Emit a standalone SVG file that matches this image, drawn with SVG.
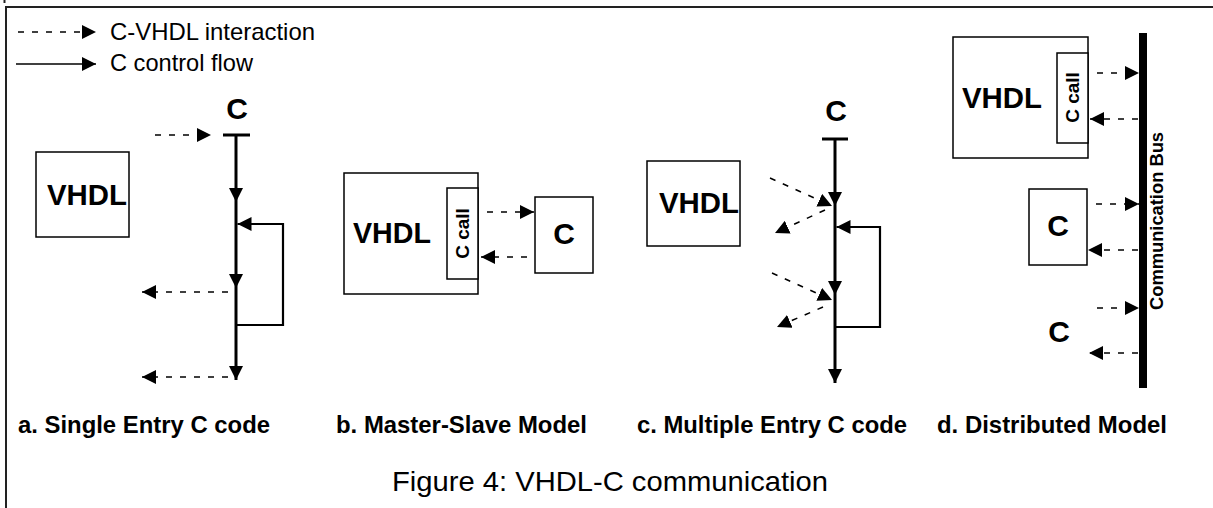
<svg xmlns="http://www.w3.org/2000/svg" width="1213" height="508" viewBox="0 0 1213 508">
<style>
text{font-family:"Liberation Sans",Arial,sans-serif;fill:#000}
.b{font-weight:bold}
.box{fill:#fff;stroke:#000;stroke-width:1.5}
.dash{fill:none;stroke:#000;stroke-width:1.5;stroke-dasharray:6 8;marker-end:url(#ah)}
.flow{fill:none;stroke:#000;stroke-width:3}
.flowa{fill:none;stroke:#000;stroke-width:3;marker-end:url(#ah)}
.loop{fill:none;stroke:#000;stroke-width:2.2;marker-end:url(#ah)}
.solid{fill:none;stroke:#000;stroke-width:1.5;marker-end:url(#ah)}
.lbl{font-size:24px;font-weight:bold}
.big{font-size:30px;font-weight:bold}
.ccall{font-size:19px;font-weight:bold}
</style>
<defs>
<marker id="ah" markerUnits="userSpaceOnUse" markerWidth="15" markerHeight="14" refX="14" refY="7" orient="auto" viewBox="0 0 15 14">
<path d="M0,0 L14,7 L0,14 z" fill="#000"/>
</marker>
</defs>
<rect width="1213" height="508" fill="#fff"/>
<g id="frame" fill="none" stroke="#222" stroke-width="2">
<path d="M6,508 V7 H1213"/>
<path d="M4.5,0 V3"/>
</g>
<g id="legend">
<path class="dash" d="M18,32 H96"/>
<text x="110" y="40" font-size="24" textLength="205" lengthAdjust="spacingAndGlyphs">C-VHDL interaction</text>
<path class="solid" d="M16,64 H96"/>
<text x="110" y="71" font-size="24" textLength="143" lengthAdjust="spacingAndGlyphs">C control flow</text>
</g>
<g id="a-vhdl">
<rect class="box" x="36" y="152" width="93" height="85"/>
<text class="big" x="47" y="205" textLength="80" lengthAdjust="spacingAndGlyphs">VHDL</text>
</g>
<g id="a-c">
<text class="big" x="237" y="119" text-anchor="middle">C</text>
</g>
<g id="b-vhdl">
<rect class="box" x="344" y="173" width="134" height="121"/>
<text class="big" x="353" y="243" textLength="78" lengthAdjust="spacingAndGlyphs">VHDL</text>
</g>
<g id="b-ccall">
<rect class="box" x="447" y="188" width="31" height="91"/>
<text class="ccall" transform="translate(469,233.5) rotate(-90)" text-anchor="middle">C call</text>
</g>
<g id="b-c">
<rect class="box" x="535" y="197" width="58" height="76"/>
<text class="big" x="564" y="244" text-anchor="middle">C</text>
</g>
<g id="c-vhdl">
<rect class="box" x="647" y="161" width="93" height="85"/>
<text class="big" x="659" y="213" textLength="80" lengthAdjust="spacingAndGlyphs">VHDL</text>
</g>
<g id="c-c">
<text class="big" x="836" y="121" text-anchor="middle">C</text>
</g>
<g id="d-vhdl">
<rect class="box" x="953" y="37" width="135" height="121"/>
<text class="big" x="962" y="108" textLength="80" lengthAdjust="spacingAndGlyphs">VHDL</text>
</g>
<g id="d-ccall">
<rect class="box" x="1057" y="53" width="31" height="90"/>
<text class="ccall" transform="translate(1079,97.5) rotate(-90)" text-anchor="middle">C call</text>
</g>
<g id="d-c1">
<rect class="box" x="1029" y="189" width="58" height="76"/>
<text class="big" x="1058" y="236" text-anchor="middle">C</text>
</g>
<g id="d-c2">
<text class="big" x="1059" y="342" text-anchor="middle">C</text>
</g>
<g id="d-bus">
<path d="M1143,33 V388" stroke="#000" stroke-width="8" fill="none"/>
<text class="b" font-size="18" transform="translate(1163,221) rotate(-90)" text-anchor="middle" textLength="178" lengthAdjust="spacingAndGlyphs">Communication Bus</text>
</g>
<g id="connectors">
<path class="flow" d="M223,135 H250"/>
<path class="flowa" d="M236,135 V202"/>
<path class="flowa" d="M236,202 V288"/>
<path class="flowa" d="M236,288 V380"/>
<path class="loop" d="M236,325 H283 V224 H237.5"/>
<path class="dash" d="M155,135 H211"/>
<path class="dash" d="M228,292 H142"/>
<path class="dash" d="M228,377 H142"/>
<path class="dash" d="M487,212 H534"/>
<path class="dash" d="M527,257 H481"/>
<path class="flow" d="M822,139 H848"/>
<path class="flowa" d="M835,139 V206"/>
<path class="flowa" d="M835,206 V295"/>
<path class="flowa" d="M835,295 V383"/>
<path class="loop" d="M835,327 H880 V227 H836.5"/>
<path class="dash" d="M770,178 L832,206"/>
<path class="dash" d="M825,210 L775,233"/>
<path class="dash" d="M772,273 L832,300"/>
<path class="dash" d="M823,307 L777,327"/>
<path class="dash" d="M1097,73 H1139"/>
<path class="dash" d="M1138,119 H1090"/>
<path class="dash" d="M1096,204 H1139"/>
<path class="dash" d="M1138,250 H1088"/>
<path class="dash" d="M1097,308 H1139"/>
<path class="dash" d="M1138,353 H1089"/>
</g>
<g id="labels">
<text class="lbl" x="18" y="433" textLength="252" lengthAdjust="spacingAndGlyphs">a. Single Entry C code</text>
<text class="lbl" x="336" y="433" textLength="251" lengthAdjust="spacingAndGlyphs">b. Master-Slave Model</text>
<text class="lbl" x="637" y="433" textLength="270" lengthAdjust="spacingAndGlyphs">c. Multiple Entry C code</text>
<text class="lbl" x="937" y="433" textLength="230" lengthAdjust="spacingAndGlyphs">d. Distributed Model</text>
<text x="392" y="491" font-size="28" textLength="436" lengthAdjust="spacingAndGlyphs">Figure 4: VHDL-C communication</text>
</g>
</svg>
